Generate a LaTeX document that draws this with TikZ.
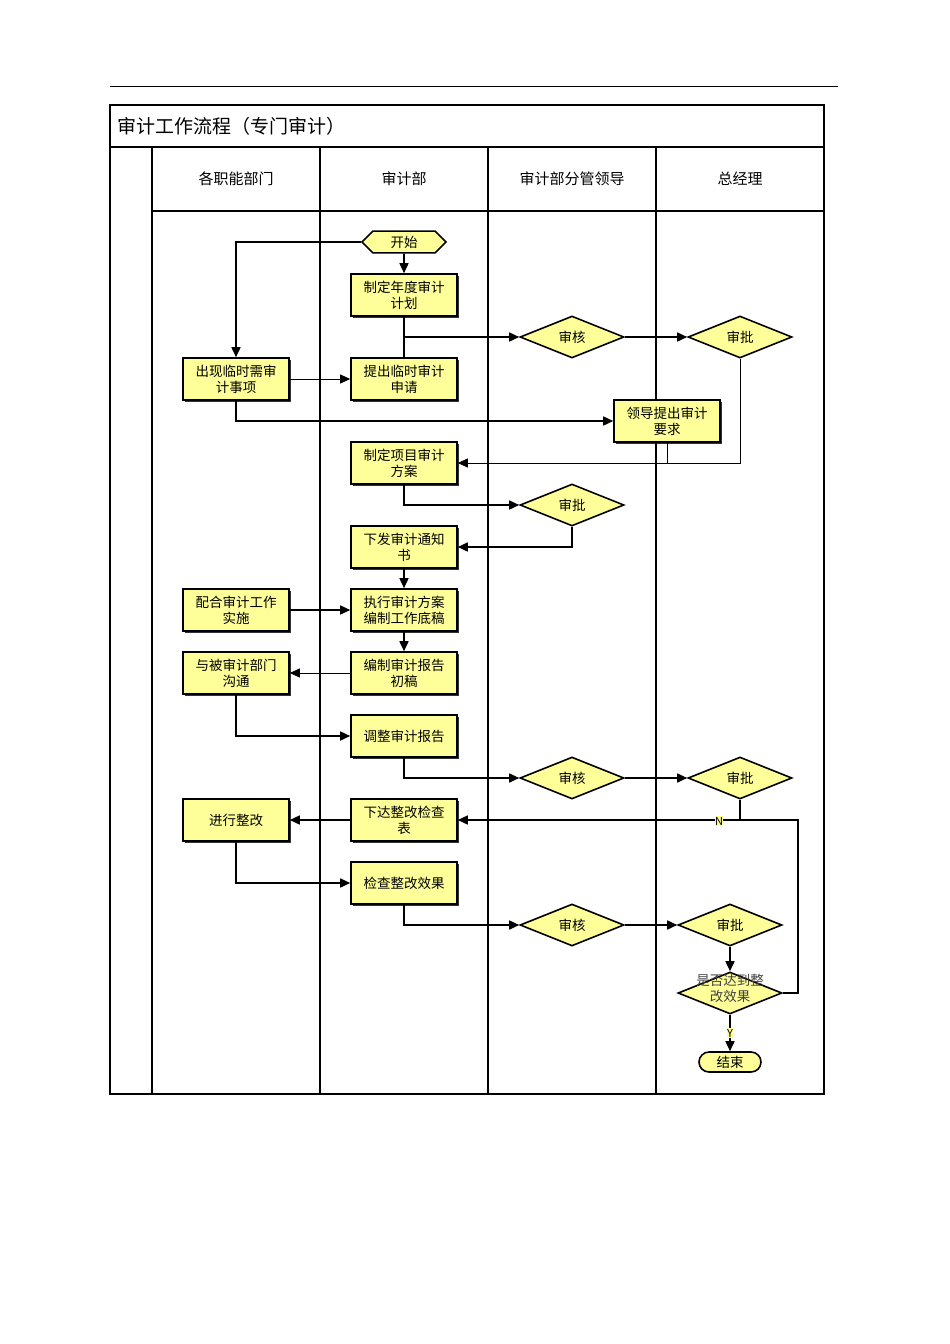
\documentclass[tikz,border=0pt]{standalone}
\usepackage{fontspec}
\setmainfont{Noto Sans CJK SC}
\usetikzlibrary{shapes.geometric,shapes.misc,arrows.meta,shadows}
\definecolor{fy}{HTML}{FFFF99}
\begin{document}
\begin{tikzpicture}[x=1pt,y=-1pt,line width=1.6pt,
 box/.style={draw,line width=1.6pt,fill=fy,minimum width=106pt,minimum height=42pt,align=center,font=\fontsize{13.5}{16}\selectfont,inner sep=1pt,text width=100pt,drop shadow={shadow xshift=1.8pt,shadow yshift=-1.8pt,fill=black,opacity=0.8}},
 dia/.style={draw,line width=1.6pt,fill=fy,diamond,aspect=2.5,minimum width=104pt,minimum height=42pt,inner sep=0pt,font=\fontsize{13.5}{16}\selectfont,align=center},
 ar/.style={-{Triangle[length=10pt,width=9pt]},line width=1.6pt},
 tar/.style={-{Triangle[length=10pt,width=9pt]},line width=0.8pt},
 ln/.style={line width=1.6pt}]
\useasboundingbox (0,0) rectangle (950,1344);
\draw[line width=0.8pt] (110,86) -- (838,86);
% frame
\draw (110,105) rectangle (824,1094);
\draw[line width=2.2pt] (110,147) -- (824,147);
\draw (152,211) -- (824,211);
\foreach \x in {152,320,488,656} \draw (\x,147) -- (\x,1094);
\node[anchor=west,font=\fontsize{19}{21}\selectfont] (title) at (113,126) {审计工作流程（专门审计）};
\node[font=\fontsize{15}{17}\selectfont] (h1) at (236,179) {各职能部门};
\node[font=\fontsize{15}{17}\selectfont] (h2) at (404,179) {审计部};
\node[font=\fontsize{15}{17}\selectfont] (h3) at (572,179) {审计部分管领导};
\node[font=\fontsize{15}{17}\selectfont] (h4) at (740,179) {总经理};
% nodes
\node[draw,fill=fy,chamfered rectangle,chamfered rectangle xsep=12pt,minimum width=84pt,minimum height=20pt,inner sep=1pt,font=\fontsize{13.5}{15}\selectfont] (start) at (404,242) {开始};
\node[box] (plan1) at (404,295) {制定年度审计\\计划};
\node[dia] (shen1) at (572,337) {审核};
\node[dia] (pi1) at (740,337) {审批};
\node[box] (lin) at (236,379) {出现临时需审\\计事项};
\node[box] (tichu) at (404,379) {提出临时审计\\申请};
\node[box] (lingdao) at (667,421) {领导提出审计\\要求};
\node[box] (fangan) at (404,463) {制定项目审计\\方案};
\node[dia] (pi2) at (572,505) {审批};
\node[box] (tongzhi) at (404,547) {下发审计通知\\书};
\node[box] (peihe) at (236,610) {配合审计工作\\实施};
\node[box] (zhixing) at (404,610) {执行审计方案\\编制工作底稿};
\node[box] (goutong) at (236,673) {与被审计部门\\沟通};
\node[box] (bianzhi) at (404,673) {编制审计报告\\初稿};
\node[box] (tiaozheng) at (404,736) {调整审计报告};
\node[dia] (shen2) at (572,778) {审核};
\node[dia] (pi3) at (740,778) {审批};
\node[box] (jinxing) at (236,820) {进行整改};
\node[box] (xiada) at (404,820) {下达整改检查\\表};
\node[box] (jiancha) at (404,883) {检查整改效果};
\node[dia] (shen3) at (572,925) {审核};
\node[dia] (pi4) at (730,925) {审批};
\node[dia] (shifou) at (730,993) {};
\node[align=center,font=\fontsize{13.5}{16}\selectfont,text=black!75] (shifoutxt) at (730,988) {是否达到整\\改效果};
\node[draw,fill=fy,rounded rectangle,minimum width=64pt,minimum height=20pt,inner sep=1pt,font=\fontsize{13.5}{15}\selectfont] (end) at (730,1062) {结束};
% connectors
\draw[ar] (start.west) -| (lin.north);
\draw[ar] (start) -- (plan1);
\draw[ln] (plan1) -- (tichu);
\draw[ar] (plan1.south |- shen1) -- (shen1);
\draw[ar] (shen1) -- (pi1);
\draw[tar] (lin) -- (tichu);
\draw[ar] (lin.south) |- (lingdao.west);
\draw[tar] (pi1.south) |- (fangan.east);
\draw[line width=0.8pt] (lingdao.south) -- (lingdao.south |- fangan.east);
\draw[ar] (fangan.south) |- (pi2.west);
\draw[ar] (pi2.south) |- (tongzhi.east);
\draw[ar] (tongzhi) -- (zhixing);
\draw[ar] (peihe) -- (zhixing);
\draw[ar] (zhixing) -- (bianzhi);
\draw[tar] (bianzhi) -- (goutong);
\draw[ar] (goutong.south) |- (tiaozheng.west);
\draw[ar] (tiaozheng.south) |- (shen2.west);
\draw[ar] (shen2) -- (pi3);
\coordinate (nr) at (798,820);
\draw[ar] (pi3.south) |- (xiada.east);
\draw[ln] (pi3.south |- xiada.east) -- (nr) |- (shifou.east);
\node[fill=fy,inner sep=0.5pt,font=\fontsize{11}{12}\selectfont] (nlab) at (719,821) {N};
\draw[ar] (xiada) -- (jinxing);
\draw[ar] (jinxing.south) |- (jiancha.west);
\draw[ar] (jiancha.south) |- (shen3.west);
\draw[ar] (shen3) -- (pi4);
\draw[ar] (pi4) -- (shifou);
\draw[ar] (shifou) -- node[fill=fy,inner sep=0.5pt,font=\fontsize{11}{12}\selectfont] (ylab) {Y} (end);
\end{tikzpicture}
\end{document}
